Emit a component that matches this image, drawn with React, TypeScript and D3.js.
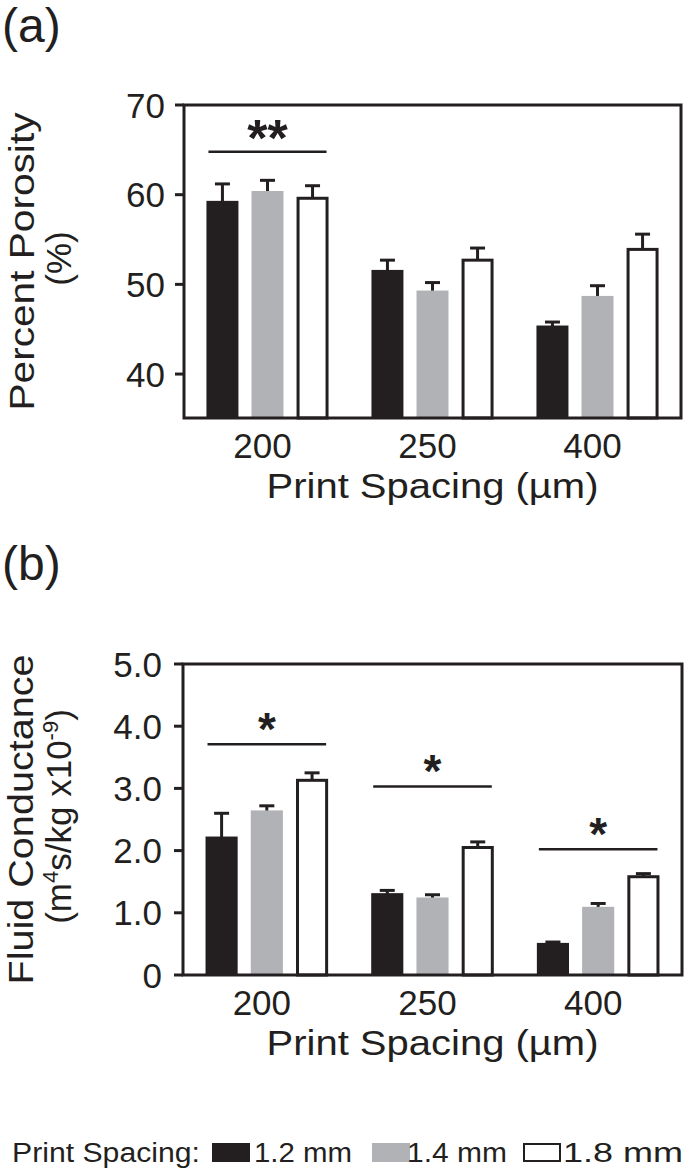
import React from "react";
import * as d3 from "d3";

const groups = ["200", "250", "400"];
const seriesNames = ["1.2 mm", "1.4 mm", "1.8 mm"];
const seriesFill = ["#231f20", "#b1b2b5", "#ffffff"];

// Panel (a) percent porosity, values per series across groups
const porosity12 = [59.2, 51.5, 45.3];
const porosity14 = [60.3, 49.2, 48.6];
const porosity18 = [59.6, 52.7, 53.9];
const porosityErr12 = [2.0, 1.2, 0.5];
const porosityErr14 = [1.3, 1.0, 1.25];
const porosityErr18 = [1.4, 1.35, 1.7];
const porosityTicks = [40, 50, 60, 70];
const porositySigGroups = ["200"];
const porositySigLevels = [64.8];
const porositySigLabels = ["**"];

// Panel (b) fluid conductance
const cond12 = [2.21, 1.3, 0.5];
const cond14 = [2.63, 1.23, 1.08];
const cond18 = [3.13, 2.05, 1.58];
const condErr12 = [0.39, 0.06, 0.03];
const condErr14 = [0.09, 0.06, 0.07];
const condErr18 = [0.12, 0.09, 0.05];
const condTicks = [0, 1, 2, 3, 4, 5];
const condSigGroups = ["200", "250", "400"];
const condSigLevels = [3.71, 3.03, 2.02];
const condSigLabels = ["*", "*", "*"];

const INK = "#231f20";
const FONT = "'Liberation Sans', Arial, Helvetica, sans-serif";

type PanelProps = {
  letter: string;
  letterY: number;
  top: number;
  bottom: number;
  left: number;
  right: number;
  domain: [number, number];
  ticks: number[];
  tickFmt: (v: number) => string;
  means: number[][];
  errs: number[][];
  sigGroups: string[];
  sigLevels: number[];
  sigLabels: string[];
  starSize: number;
  titleLine1: string;
  titleLine1Len: number;
  titleLine2: React.ReactNode;
  titleLine2Len?: number;
  titleY1: number;
  titleY2: number;
  tickLabelX: number;
};

function Panel(p: PanelProps) {
  const y = d3.scaleLinear().domain(p.domain).range([p.bottom, p.top]);
  const x0 = d3
    .scaleBand<string>()
    .domain(groups)
    .range([p.left, p.right])
    .paddingInner(0.26)
    .paddingOuter(0.136);
  const x1 = d3
    .scaleBand<string>()
    .domain(seriesNames)
    .range([0, x0.bandwidth()])
    .paddingInner(0.29)
    .paddingOuter(0);
  const capW = 15;
  const sw = 3;

  const bars: React.ReactNode[] = [];
  const errBars: React.ReactNode[] = [];
  groups.forEach((g, gi) => {
    seriesNames.forEach((s, si) => {
      const v = p.means[si][gi];
      const e = p.errs[si][gi];
      const bx = (x0(g) as number) + (x1(s) as number);
      const bw = x1.bandwidth();
      const cx = bx + bw / 2;
      const yTop = y(v);
      const yErr = y(v + e);
      errBars.push(
        <g key={`e-${g}-${s}`}>
          <line x1={cx} x2={cx} y1={yTop} y2={yErr} stroke={INK} strokeWidth={sw} />
          <line x1={cx - capW / 2} x2={cx + capW / 2} y1={yErr} y2={yErr} stroke={INK} strokeWidth={sw} />
        </g>
      );
      if (si === 2) {
        bars.push(
          <rect
            key={`b-${g}-${s}`}
            x={bx + 1.5}
            y={yTop}
            width={bw - 3}
            height={p.bottom - yTop}
            fill={seriesFill[si]}
            stroke={INK}
            strokeWidth={sw}
          />
        );
      } else {
        bars.push(
          <rect
            key={`b-${g}-${s}`}
            x={bx}
            y={yTop - 1}
            width={bw}
            height={p.bottom - yTop + 1}
            fill={seriesFill[si]}
          />
        );
      }
    });
  });

  const midX = (p.left + p.right) / 2;
  const titleCenterY = (p.top + p.bottom) / 2;

  return (
    <g>
      <text x={2} y={p.letterY} fontSize={48} fill={INK} fontFamily={FONT}>
        {p.letter}
      </text>
      {errBars}
      {bars}
      <rect
        x={p.left}
        y={p.top}
        width={p.right - p.left}
        height={p.bottom - p.top}
        fill="none"
        stroke={INK}
        strokeWidth={3}
      />
      {p.ticks.map((t) => (
        <g key={`t-${t}`}>
          <line x1={p.left - 9} x2={p.left} y1={y(t)} y2={y(t)} stroke={INK} strokeWidth={3} />
          <text
            x={p.tickLabelX}
            y={y(t) + 12.5}
            fontSize={35}
            textAnchor="end"
            fill={INK}
            fontFamily={FONT}
          >
            {p.tickFmt(t)}
          </text>
        </g>
      ))}
      {groups.map((g) => (
        <text
          key={`xl-${g}`}
          x={(x0(g) as number) + x0.bandwidth() / 2 - 5}
          y={p.bottom + 40}
          fontSize={35}
          textAnchor="middle"
          fill={INK}
          fontFamily={FONT}
        >
          {g}
        </text>
      ))}
      <text
        x={midX}
        y={p.bottom + 80}
        fontSize={35}
        textAnchor="middle"
        fill={INK}
        fontFamily={FONT}
        textLength={332}
        lengthAdjust="spacingAndGlyphs"
      >
        Print Spacing (µm)
      </text>
      {p.sigGroups.map((g, i) => {
        const gx = x0(g) as number;
        const ly = y(p.sigLevels[i]);
        const cx = gx + x0.bandwidth() / 2;
        const starCenter = ly - 26;
        return (
          <g key={`s-${g}`}>
            <line x1={gx + 2} x2={gx + x0.bandwidth() - 2} y1={ly} y2={ly} stroke={INK} strokeWidth={2.5} />
            <text
              x={cx}
              y={starCenter + 0.58 * p.starSize}
              fontSize={p.starSize}
              textAnchor="middle"
              fill={INK}
              fontFamily={FONT}
              fontWeight="bold"
            >
              {p.sigLabels[i]}
            </text>
          </g>
        );
      })}
      <text
        transform={`translate(${p.titleY1},${titleCenterY}) rotate(-90)`}
        fontSize={35}
        textAnchor="middle"
        fill={INK}
        fontFamily={FONT}
        textLength={p.titleLine1Len}
        lengthAdjust="spacingAndGlyphs"
      >
        {p.titleLine1}
      </text>
      <text
        transform={`translate(${p.titleY2},${titleCenterY - 3}) rotate(-90)`}
        fontSize={35}
        textAnchor="middle"
        fill={INK}
        fontFamily={FONT}
        textLength={p.titleLine2Len}
        lengthAdjust={p.titleLine2Len ? "spacingAndGlyphs" : undefined}
      >
        {p.titleLine2}
      </text>
    </g>
  );
}

export default function App() {
  const legendX = [212, 372, 523];
  const legendTextX = [254, 407, 563];
  const legendTextLen = [98, 100, 120];
  return (
    <svg
      width={685}
      height={1170}
      style={{ position: "absolute", left: 0, top: 0, background: "#fff" }}
    >
      <rect x={0} y={0} width={685} height={1170} fill="#fff" />
      <Panel
        letter="(a)"
        letterY={42}
        top={105}
        bottom={418}
        left={184}
        right={681}
        domain={[35.1, 70]}
        ticks={porosityTicks}
        tickFmt={(v) => String(v)}
        means={[porosity12, porosity14, porosity18]}
        errs={[porosityErr12, porosityErr14, porosityErr18]}
        sigGroups={porositySigGroups}
        sigLevels={porositySigLevels}
        sigLabels={porositySigLabels}
        starSize={52}
        titleLine1="Percent Porosity"
        titleLine1Len={298}
        titleLine2="(%)"
        titleY1={34}
        titleY2={71}
        tickLabelX={165}
      />
      <Panel
        letter="(b)"
        letterY={580}
        top={664}
        bottom={975}
        left={183}
        right={682}
        domain={[0, 5]}
        ticks={condTicks}
        tickFmt={(v) => (v === 0 ? "0" : d3.format(".1f")(v))}
        means={[cond12, cond14, cond18]}
        errs={[condErr12, condErr14, condErr18]}
        sigGroups={condSigGroups}
        sigLevels={condSigLevels}
        sigLabels={condSigLabels}
        starSize={46}
        titleLine1="Fluid Conductance"
        titleLine1Len={330}
        titleLine2={
          <>
            <tspan>(m</tspan>
            <tspan fontSize={22} dy={-13}>4</tspan>
            <tspan dy={13}>s/kg x10</tspan>
            <tspan fontSize={22} dy={-13}>-9</tspan>
            <tspan dy={13}>)</tspan>
          </>
        }
        titleY1={33}
        titleY2={71}
        tickLabelX={162}
      />
      <g fontFamily={FONT} fill={INK}>
        <text x={12} y={1162} fontSize={27} textLength={188} lengthAdjust="spacingAndGlyphs">
          Print Spacing:
        </text>
        {seriesNames.map((s, i) => (
          <g key={`lg-${s}`}>
            <rect
              x={legendX[i] + (i === 2 ? 1 : 0)}
              y={1143 + (i === 2 ? 1 : 0)}
              width={38 - (i === 2 ? 2 : 0)}
              height={19 - (i === 2 ? 2 : 0)}
              fill={seriesFill[i]}
              stroke={i === 2 ? INK : "none"}
              strokeWidth={2}
            />
            <text
              x={legendTextX[i]}
              y={1162}
              fontSize={27}
              textLength={legendTextLen[i]}
              lengthAdjust="spacingAndGlyphs"
            >
              {s}
            </text>
          </g>
        ))}
      </g>
    </svg>
  );
}
